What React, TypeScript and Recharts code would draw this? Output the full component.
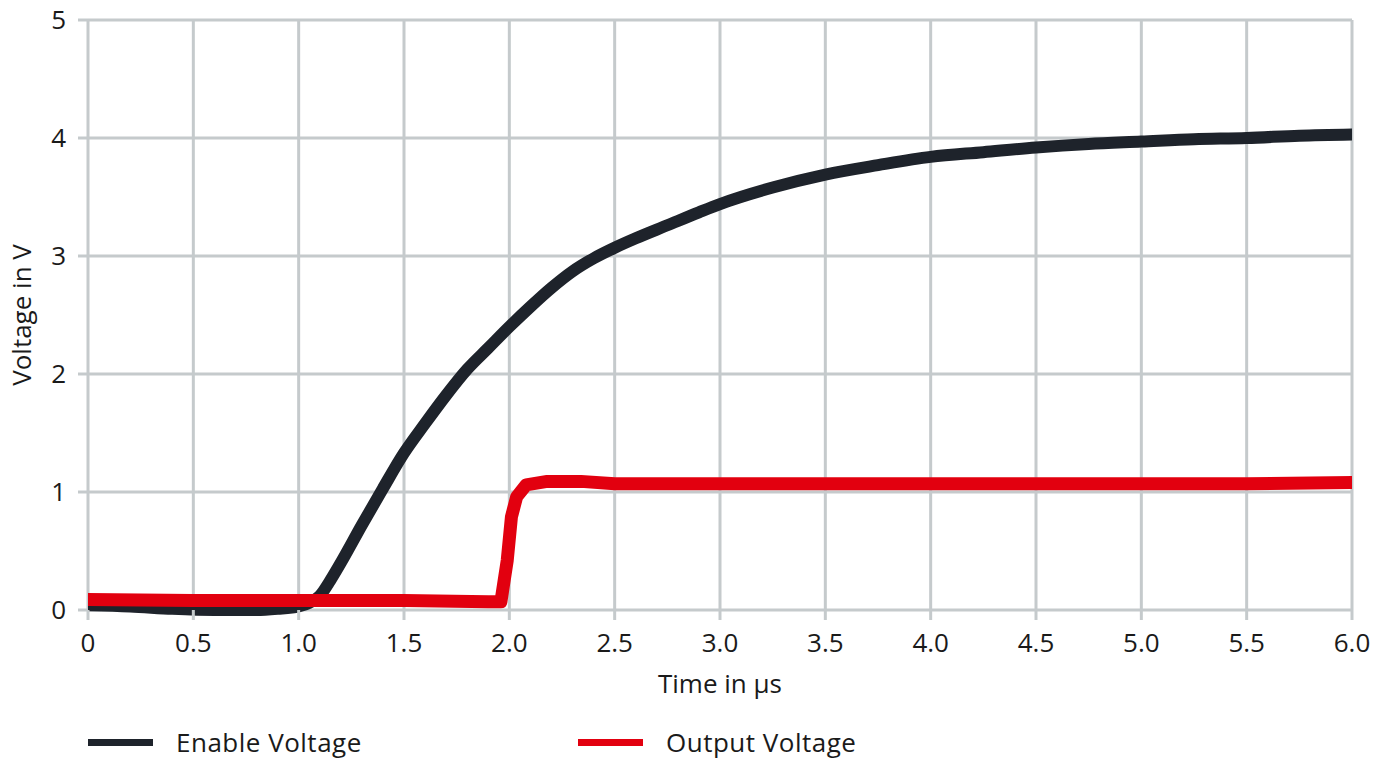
import React from "react";
import {
  LineChart,
  Line,
  XAxis,
  YAxis,
  CartesianGrid,
  Legend,
} from "recharts";

// Time in µs
const enableTime = [
  0, 0.2, 0.4, 0.6, 0.8, 0.9, 1.0, 1.05, 1.1, 1.15, 1.2, 1.3, 1.4, 1.5, 1.6,
  1.7, 1.8, 1.9, 2.0, 2.1, 2.2, 2.3, 2.4, 2.5, 2.6, 2.75, 2.9, 3.0, 3.25, 3.5,
  3.75, 4.0, 4.25, 4.5, 4.75, 5.0, 5.25, 5.5, 5.75, 6.0,
];
// Voltage in V
const enableVoltage = [
  0.04, 0.03, 0.01, 0.0, 0.0, 0.01, 0.03, 0.06, 0.12, 0.25, 0.4, 0.72, 1.03,
  1.33, 1.58, 1.82, 2.04, 2.22, 2.4, 2.57, 2.73, 2.87, 2.98, 3.07, 3.15, 3.26,
  3.37, 3.44, 3.58, 3.69, 3.77, 3.84, 3.88, 3.92, 3.95, 3.97, 3.99, 4.0, 4.02,
  4.03,
];

const outputTime = [
  0, 0.5, 1.0, 1.5, 1.9, 1.96, 1.99, 2.01, 2.035, 2.08, 2.18, 2.34, 2.5, 3.0,
  3.5, 4.0, 4.5, 5.0, 5.5, 6.0,
];
const outputVoltage = [
  0.09, 0.08, 0.08, 0.08, 0.07, 0.07, 0.42, 0.79, 0.96, 1.06, 1.09, 1.09, 1.07,
  1.07, 1.07, 1.07, 1.07, 1.07, 1.07, 1.08,
];

const xTicks = [0, 0.5, 1, 1.5, 2, 2.5, 3, 3.5, 4, 4.5, 5, 5.5, 6];
const yTicks = [0, 1, 2, 3, 4, 5];

const enableData = enableTime.map((t, i) => ({ t, v: enableVoltage[i] }));
const outputData = outputTime.map((t, i) => ({ t, v: outputVoltage[i] }));

const FONT = "'Open Sans', sans-serif";
const GRID = "#c5cacc";
const DARK = "#1e232b";
const RED = "#e2000f";
const TEXT = "#1a1a1a";

const legendItems = [
  { label: "Enable Voltage", color: DARK },
  { label: "Output Voltage", color: RED },
];

const renderLegend = () => (
  <div style={{ height: 67, position: "relative", fontFamily: FONT }}>
    {legendItems.map((item, i) => (
      <div
        key={item.label}
        style={{
          position: "absolute",
          left: 88 + i * 490,
          top: 37,
          height: 30,
          display: "flex",
          alignItems: "center",
        }}
      >
        <div style={{ width: 65, height: 7, background: item.color }} />
        <span style={{ marginLeft: 23, fontSize: 26, letterSpacing: 0.5, color: TEXT }}>
          {item.label}
        </span>
      </div>
    ))}
  </div>
);

export default function App() {
  return (
    <div style={{ position: "absolute", left: 0, top: 0, width: 1386, height: 758, background: "#fff" }}>
      <LineChart
        width={1386}
        height={758}
        margin={{ top: 20, right: 34, bottom: 1, left: 0 }}
        style={{ fontFamily: FONT }}
      >
        <CartesianGrid stroke={GRID} strokeWidth={3} />
        <XAxis
          type="number"
          dataKey="t"
          domain={[0, 6]}
          ticks={xTicks}
          allowDataOverflow
          height={80}
          axisLine={false}
          tickLine={{ stroke: GRID, strokeWidth: 3 }}
          tickSize={10}
          tickMargin={14}
          tick={{ fill: TEXT, fontSize: 26 }}
          tickFormatter={(v: number) => (v === 0 ? "0" : v.toFixed(1))}
          label={{
            value: "Time in µs",
            position: "insideBottom",
            offset: -3,
            fill: TEXT,
            fontSize: 26,
          }}
        />
        <YAxis
          type="number"
          domain={[0, 5]}
          ticks={yTicks}
          width={88}
          axisLine={false}
          tickLine={{ stroke: GRID, strokeWidth: 3 }}
          tickSize={10}
          tickMargin={12}
          tick={{ fill: TEXT, fontSize: 26 }}
          label={{
            value: "Voltage in V",
            angle: -90,
            position: "insideLeft",
            offset: 22,
            fill: TEXT,
            fontSize: 26,
            style: { textAnchor: "middle" },
          }}
        />
        <Legend verticalAlign="bottom" height={67} content={renderLegend} wrapperStyle={{ left: 0, width: 1386 }} />
        <Line
          data={enableData}
          dataKey="v"
          type="monotone"
          stroke={DARK}
          strokeWidth={12}
          strokeLinecap="round"
          strokeLinejoin="round"
          dot={false}
          isAnimationActive={false}
          name="Enable Voltage"
        />
        <Line
          data={outputData}
          dataKey="v"
          type="linear"
          stroke={RED}
          strokeWidth={13}
          strokeLinecap="round"
          strokeLinejoin="round"
          dot={false}
          isAnimationActive={false}
          name="Output Voltage"
        />
      </LineChart>
    </div>
  );
}
